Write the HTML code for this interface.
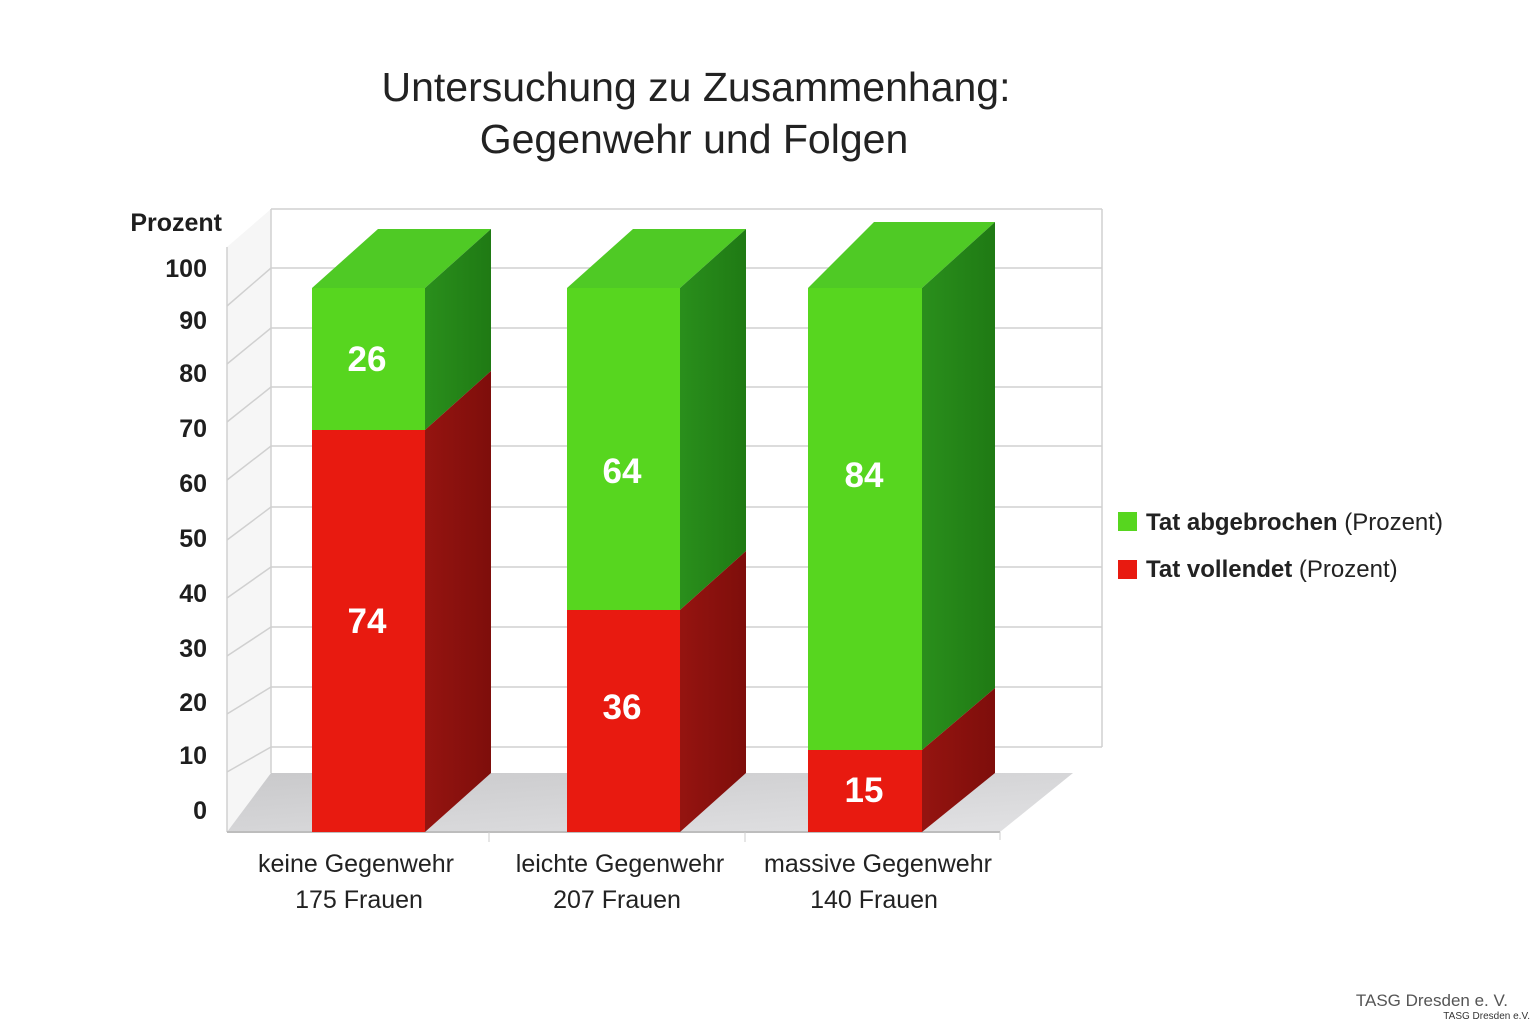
<!DOCTYPE html>
<html><head><meta charset="utf-8"><style>
html,body{margin:0;padding:0;background:#fff;}
svg{display:block;font-family:"Liberation Sans","DejaVu Sans",sans-serif;}
</style></head><body>
<svg width="1536" height="1024" viewBox="0 0 1536 1024" xmlns="http://www.w3.org/2000/svg">
<defs>
<linearGradient id="fl" x1="0" y1="0" x2="1" y2="1"><stop offset="0" stop-color="#c9c9cb"/><stop offset="1" stop-color="#e2e2e4"/></linearGradient>
<linearGradient id="gs" x1="0" y1="0" x2="1" y2="0"><stop offset="0" stop-color="#2a8f1c"/><stop offset="1" stop-color="#1f7a14"/></linearGradient>
<linearGradient id="rs" x1="0" y1="0" x2="1" y2="0"><stop offset="0" stop-color="#951410"/><stop offset="1" stop-color="#7e0e0b"/></linearGradient>
</defs>
<rect width="1536" height="1024" fill="#fff"/>
<text x="696" y="101" font-size="41" fill="#222" text-anchor="middle">Untersuchung zu Zusammenhang:</text>
<text x="694" y="153" font-size="41" fill="#222" text-anchor="middle">Gegenwehr und Folgen</text>

<!-- left wall -->
<polygon points="227,247 271,209 271,773 227,832" fill="#f6f6f6"/>
<g stroke="#d0d0d0" stroke-width="1.5" fill="none">
<line x1="271" y1="209" x2="1102" y2="209"/>
<line x1="271" y1="209" x2="271" y2="773"/>
<line x1="227" y1="247" x2="227" y2="832"/>
<line x1="1102" y1="209" x2="1102" y2="747"/>
<g>
<line x1="271" y1="268" x2="1102" y2="268"/><line x1="227" y1="306" x2="271" y2="268"/>
<line x1="271" y1="328" x2="1102" y2="328"/><line x1="227" y1="364" x2="271" y2="328"/>
<line x1="271" y1="387" x2="1102" y2="387"/><line x1="227" y1="422" x2="271" y2="387"/>
<line x1="271" y1="446" x2="1102" y2="446"/><line x1="227" y1="480" x2="271" y2="446"/>
<line x1="271" y1="507" x2="1102" y2="507"/><line x1="227" y1="540" x2="271" y2="507"/>
<line x1="271" y1="567" x2="1102" y2="567"/><line x1="227" y1="598" x2="271" y2="567"/>
<line x1="271" y1="627" x2="1102" y2="627"/><line x1="227" y1="656" x2="271" y2="627"/>
<line x1="271" y1="687" x2="1102" y2="687"/><line x1="227" y1="714" x2="271" y2="687"/>
<line x1="271" y1="747" x2="1102" y2="747"/><line x1="227" y1="772" x2="271" y2="747"/>
</g>
</g>
<!-- floor -->
<polygon points="227,832 1000,832 1073,773 271,773" fill="url(#fl)"/>
<line x1="227" y1="832" x2="1000" y2="832" stroke="#bdbdbd" stroke-width="2"/>
<line x1="1000" y1="832" x2="1000" y2="840" stroke="#ccc"/>
<line x1="489" y1="832" x2="489" y2="842" stroke="#ccc"/>
<line x1="745" y1="832" x2="745" y2="842" stroke="#ccc"/>

<!-- bar 1 -->
<polygon points="312,288 378,229 491,229 425,288" fill="#4fca25"/>
<polygon points="425,288 491,229 491,371 425,430" fill="url(#gs)"/>
<polygon points="425,430 491,371 491,773 425,832" fill="url(#rs)"/>
<rect x="312" y="288" width="113" height="142" fill="#57d61f"/>
<rect x="312" y="430" width="113" height="402" fill="#e81a10"/>
<!-- bar 2 -->
<polygon points="567,288 633,229 746,229 680,288" fill="#4fca25"/>
<polygon points="680,288 746,229 746,551 680,610" fill="url(#gs)"/>
<polygon points="680,610 746,551 746,773 680,832" fill="url(#rs)"/>
<rect x="567" y="288" width="113" height="322" fill="#57d61f"/>
<rect x="567" y="610" width="113" height="222" fill="#e81a10"/>
<!-- bar 3 -->
<polygon points="808,288 874,222 995,222 922,288" fill="#4fca25"/>
<polygon points="922,288 995,222 995,688 922,750" fill="url(#gs)"/>
<polygon points="922,750 995,688 995,773 922,832" fill="url(#rs)"/>
<rect x="808" y="288" width="114" height="462" fill="#57d61f"/>
<rect x="808" y="750" width="114" height="82" fill="#e81a10"/>

<g fill="#fff" font-size="35" font-weight="bold" text-anchor="middle">
<text x="367" y="371">26</text><text x="367" y="633">74</text>
<text x="622" y="483">64</text><text x="622" y="719">36</text>
<text x="864" y="487">84</text><text x="864" y="802">15</text>
</g>

<g fill="#1e1e1e" font-size="25" font-weight="bold" text-anchor="end">
<text x="222" y="231">Prozent</text>
<text x="207" y="277">100</text><text x="207" y="329">90</text><text x="207" y="382">80</text>
<text x="207" y="437">70</text><text x="207" y="492">60</text><text x="207" y="547">50</text>
<text x="207" y="602">40</text><text x="207" y="657">30</text><text x="207" y="711">20</text>
<text x="207" y="764">10</text><text x="207" y="819">0</text>
</g>

<g fill="#222" font-size="25" text-anchor="middle">
<text x="356" y="872">keine Gegenwehr</text><text x="359" y="908">175 Frauen</text>
<text x="620" y="872">leichte Gegenwehr</text><text x="617" y="908">207 Frauen</text>
<text x="878" y="872">massive Gegenwehr</text><text x="874" y="908">140 Frauen</text>
</g>

<rect x="1118" y="512" width="19" height="19" fill="#57d61f"/>
<rect x="1118" y="560" width="19" height="19" fill="#e81a10"/>
<text x="1146" y="530" font-size="24" fill="#222"><tspan font-weight="bold">Tat abgebrochen</tspan> (Prozent)</text>
<text x="1146" y="577" font-size="24" fill="#222"><tspan font-weight="bold">Tat vollendet</tspan> (Prozent)</text>

<text x="1508" y="1006" font-size="17" fill="#555" text-anchor="end">TASG Dresden e. V.</text>
<text x="1530" y="1019" font-size="10" fill="#333" text-anchor="end">TASG Dresden e.V.</text>
</svg>
</body></html>
